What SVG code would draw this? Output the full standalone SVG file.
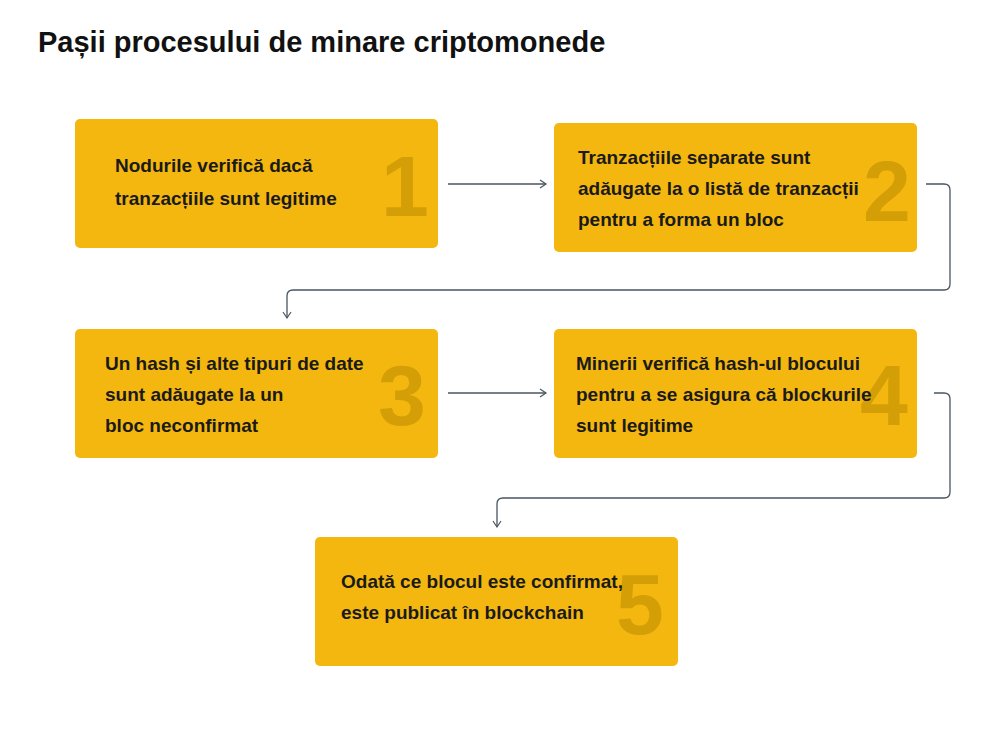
<svg xmlns="http://www.w3.org/2000/svg" width="992" height="754" viewBox="0 0 992 754">
<style>
.box{fill:#f4b70f}
.num{font-family:"Liberation Sans",Arial,sans-serif;font-weight:bold;font-size:86px;fill:#d49e06;text-anchor:middle}
.t{font-family:"Liberation Sans",Arial,sans-serif;font-weight:bold;font-size:19px;fill:#1a1a1a}
.c{fill:none;stroke:#4a5560;stroke-width:1.3}
</style>
<defs><marker id="a" markerWidth="10" markerHeight="10" refX="8" refY="5" orient="auto" markerUnits="userSpaceOnUse"><path d="M2,1 L8,5 L2,9" fill="none" stroke="#4a5560" stroke-width="1.2"/></marker></defs>
<rect width="992" height="754" fill="#fff"/>
<text x="38" y="52" font-family="Liberation Sans,Arial,sans-serif" font-weight="bold" font-size="29" fill="#111">Pașii procesului de minare criptomonede</text>
<g id="connectors">
<path class="c" d="M448,184 H546" marker-end="url(#a)"/>
<path class="c" d="M926,184 H944 Q950,184 950,190 V284 Q950,290 944,290 H293 Q287,290 287,296 V318" marker-end="url(#a)"/>
<path class="c" d="M448,393 H546" marker-end="url(#a)"/>
<path class="c" d="M934,393 H944 Q950,393 950,399 V492 Q950,498 944,498 H503 Q497,498 497,504 V527" marker-end="url(#a)"/>
</g>
<g id="n1"><rect class="box" x="75" y="119" width="363" height="129" rx="5"/><text class="num" x="405" y="216">1</text><text class="t" x="115" y="172">Nodurile verifică dacă</text><text class="t" x="115" y="205">tranzacțiile sunt legitime</text></g>
<g id="n2"><rect class="box" x="554" y="123" width="363" height="129" rx="5"/><text class="num" x="887" y="221">2</text><text class="t" x="578" y="164">Tranzacțiile separate sunt</text><text class="t" x="578" y="195">adăugate la o listă de tranzacții</text><text class="t" x="578" y="226">pentru a forma un bloc</text></g>
<g id="n3"><rect class="box" x="75" y="329" width="363" height="129" rx="5"/><text class="num" x="402" y="425">3</text><text class="t" x="105" y="370">Un hash și alte tipuri de date</text><text class="t" x="105" y="401">sunt adăugate la un</text><text class="t" x="105" y="432">bloc neconfirmat</text></g>
<g id="n4"><rect class="box" x="554" y="329" width="363" height="129" rx="5"/><text class="num" x="884" y="425">4</text><text class="t" x="576" y="370">Minerii verifică hash-ul blocului</text><text class="t" x="576" y="401">pentru a se asigura că blockurile</text><text class="t" x="576" y="432">sunt legitime</text></g>
<g id="n5"><rect class="box" x="315" y="537" width="363" height="129" rx="5"/><text class="num" x="640" y="634">5</text><text class="t" x="341" y="588">Odată ce blocul este confirmat,</text><text class="t" x="341" y="619">este publicat în blockchain</text></g>
</svg>
